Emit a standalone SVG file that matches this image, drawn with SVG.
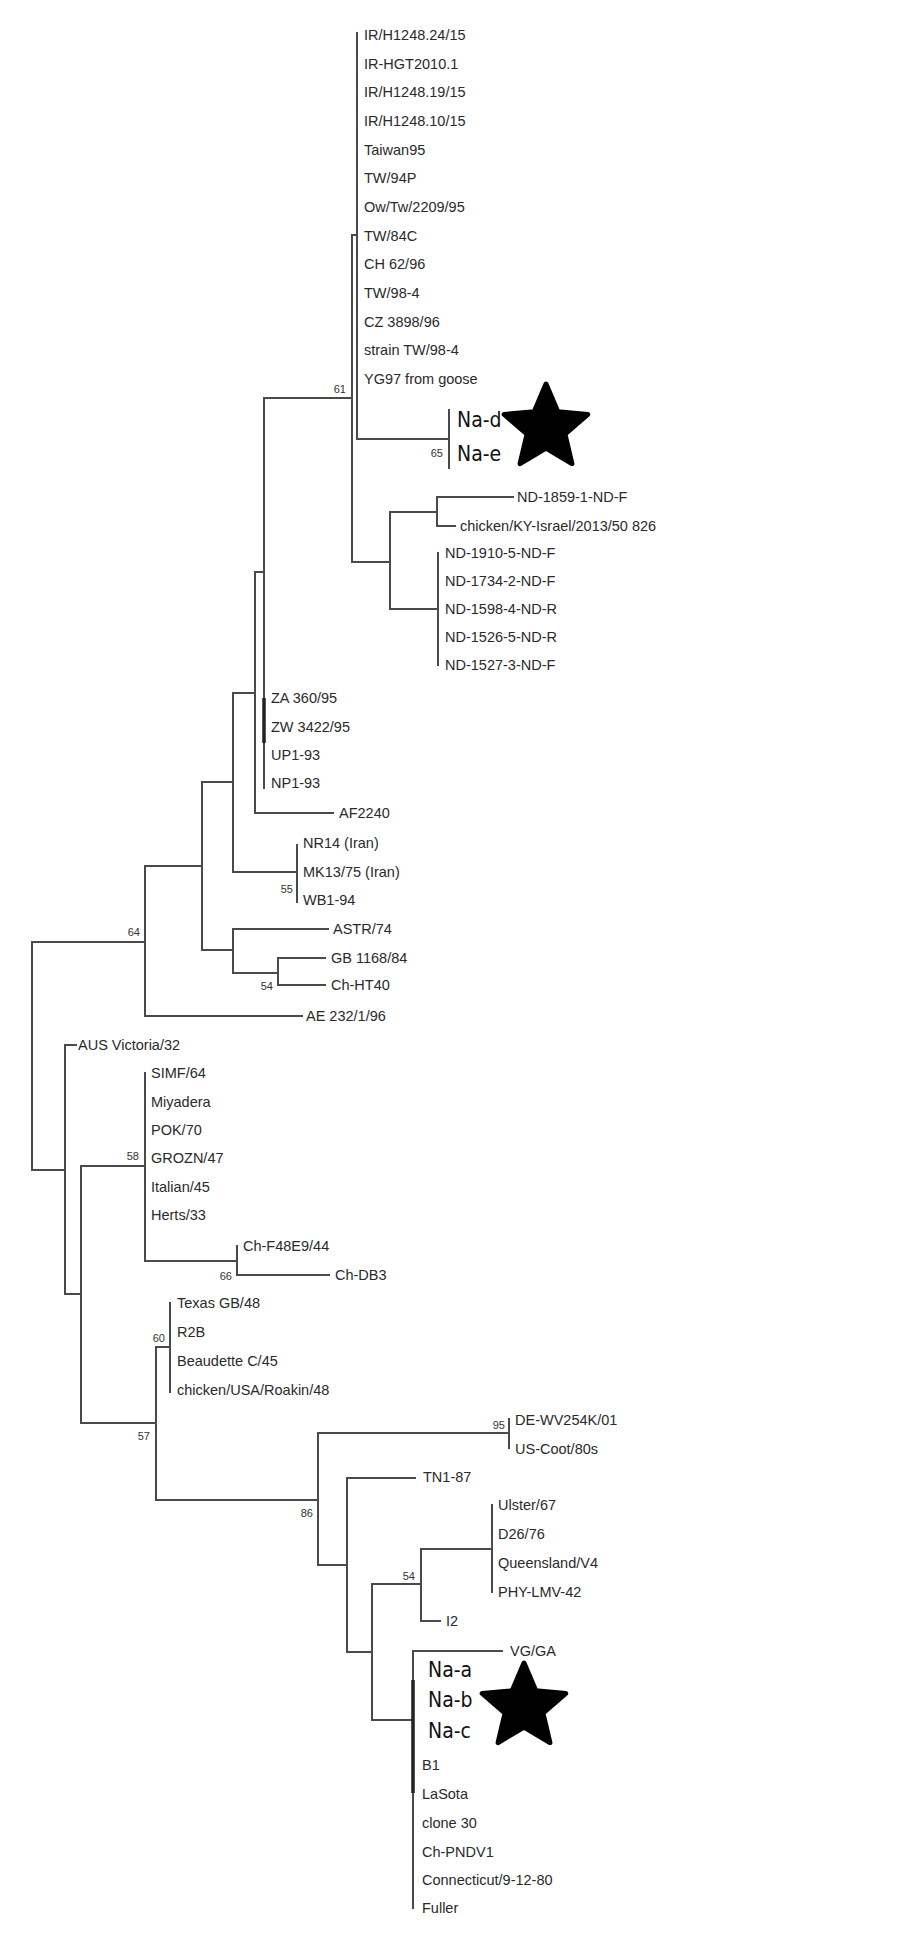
<svg xmlns="http://www.w3.org/2000/svg" width="915" height="1944" viewBox="0 0 915 1944">
<style>
.bg{fill:#fff}
.e{fill:none;stroke:#4a4a4a;stroke-width:2;stroke-linecap:square}
.thick{fill:none;stroke:#222;stroke-width:3.5}
.t{font-family:"Liberation Sans",Arial,sans-serif;font-size:14.5px;fill:#2a2a2a}
.na{font-family:"DejaVu Sans Condensed","DejaVu Sans",sans-serif;font-stretch:condensed;font-size:21px;fill:#111}
.b{font-family:"Liberation Sans",Arial,sans-serif;font-size:11px;fill:#333;text-anchor:end}
.star{fill:#000;stroke:#000;stroke-width:5;stroke-linejoin:round}
</style>
<defs>
<path id="star" d="M0,-44 L11.8,-16.2 L41.8,-13.6 L19,6.2 L25.9,35.6 L0,20 L-25.9,35.6 L-19,6.2 L-41.8,-13.6 L-11.8,-16.2 Z"/>
</defs>
<rect class="bg" x="0" y="0" width="915" height="1944"/>
<g id="connectors">
<path class="e" d="M357 33V439M357 439H449M352 235H357M449 410V468
M352 235V562M264 398H352M352 562H390
M390 512V609M390 512H437M390 609H438
M437 497V526M437 497H513M437 526H455
M438 553V665
M264 398V788M255 572H264
M255 572V813M255 813H333M233 693H255
M233 693V872M233 872H297M202 782H233
M297 845V902
M202 782V950M145 866H202M202 950H233
M233 929V973M233 929H328M233 973H278
M278 958V985M278 958H325M278 985H325
M145 866V1016M145 1016H302M32 942H145
M32 942V1170M32 1170H65
M65 1045V1294M65 1045H76M65 1294H81
M81 1166V1423M81 1166H145M81 1423H156
M145 1073V1261M145 1261H237
M237 1246V1275M237 1275H329
M170 1303V1392M156 1347H170
M156 1347V1500M156 1500H318
M318 1433V1565M318 1433H509M318 1565H347
M509 1419V1448
M347 1478V1652M347 1478H415M347 1652H372
M372 1584V1720M372 1584H421M372 1720H413
M421 1549V1621M421 1549H492M421 1621H440
M492 1505V1592
M413 1651V1908M413 1651H502"/>
<path class="thick" d="M264 698V743M413 1680V1793"/>
</g>
<g id="bootstrap">
<text class="b" x="346" y="393">61</text>
<text class="b" x="443" y="457">65</text>
<text class="b" x="293" y="893">55</text>
<text class="b" x="273" y="990">54</text>
<text class="b" x="140" y="936">64</text>
<text class="b" x="139" y="1160">58</text>
<text class="b" x="232" y="1280">66</text>
<text class="b" x="165" y="1342">60</text>
<text class="b" x="150" y="1440">57</text>
<text class="b" x="505" y="1429">95</text>
<text class="b" x="313" y="1517">86</text>
<text class="b" x="415" y="1580">54</text>
</g>
<g id="leaf-IR-H1248-24"><text class="t" x="364" y="40">IR/H1248.24/15</text></g>
<g id="leaf-IR-HGT2010"><text class="t" x="364" y="69">IR-HGT2010.1</text></g>
<g id="leaf-IR-H1248-19"><text class="t" x="364" y="97">IR/H1248.19/15</text></g>
<g id="leaf-IR-H1248-10"><text class="t" x="364" y="126">IR/H1248.10/15</text></g>
<g id="leaf-Taiwan95"><text class="t" x="364" y="155">Taiwan95</text></g>
<g id="leaf-TW94P"><text class="t" x="364" y="183">TW/94P</text></g>
<g id="leaf-OwTw"><text class="t" x="364" y="212">Ow/Tw/2209/95</text></g>
<g id="leaf-TW84C"><text class="t" x="364" y="241">TW/84C</text></g>
<g id="leaf-CH62"><text class="t" x="364" y="269">CH 62/96</text></g>
<g id="leaf-TW98-4"><text class="t" x="364" y="298">TW/98-4</text></g>
<g id="leaf-CZ3898"><text class="t" x="364" y="327">CZ 3898/96</text></g>
<g id="leaf-strainTW"><text class="t" x="364" y="355">strain TW/98-4</text></g>
<g id="leaf-YG97"><text class="t" x="364" y="384">YG97 from goose</text></g>
<g id="leaf-Na-d"><text class="na" x="457" y="427">Na-d</text></g>
<g id="leaf-Na-e"><text class="na" x="457" y="461">Na-e</text></g>
<g id="star-1"><use href="#star" class="star" x="546" y="428"/></g>
<g id="leaf-ND-1859"><text class="t" x="517" y="502">ND-1859-1-ND-F</text></g>
<g id="leaf-chickenKY"><text class="t" x="460" y="531">chicken/KY-Israel/2013/50 826</text></g>
<g id="leaf-ND-1910"><text class="t" x="445" y="558">ND-1910-5-ND-F</text></g>
<g id="leaf-ND-1734"><text class="t" x="445" y="586">ND-1734-2-ND-F</text></g>
<g id="leaf-ND-1598"><text class="t" x="445" y="614">ND-1598-4-ND-R</text></g>
<g id="leaf-ND-1526"><text class="t" x="445" y="642">ND-1526-5-ND-R</text></g>
<g id="leaf-ND-1527"><text class="t" x="445" y="670">ND-1527-3-ND-F</text></g>
<g id="leaf-ZA360"><text class="t" x="271" y="703">ZA 360/95</text></g>
<g id="leaf-ZW3422"><text class="t" x="271" y="732">ZW 3422/95</text></g>
<g id="leaf-UP1"><text class="t" x="271" y="760">UP1-93</text></g>
<g id="leaf-NP1"><text class="t" x="271" y="788">NP1-93</text></g>
<g id="leaf-AF2240"><text class="t" x="339" y="818">AF2240</text></g>
<g id="leaf-NR14"><text class="t" x="303" y="848">NR14 (Iran)</text></g>
<g id="leaf-MK13"><text class="t" x="303" y="877">MK13/75 (Iran)</text></g>
<g id="leaf-WB1"><text class="t" x="303" y="905">WB1-94</text></g>
<g id="leaf-ASTR"><text class="t" x="333" y="934">ASTR/74</text></g>
<g id="leaf-GB1168"><text class="t" x="331" y="963">GB 1168/84</text></g>
<g id="leaf-ChHT40"><text class="t" x="331" y="990">Ch-HT40</text></g>
<g id="leaf-AE232"><text class="t" x="306" y="1021">AE 232/1/96</text></g>
<g id="leaf-AUS"><text class="t" x="78" y="1050">AUS Victoria/32</text></g>
<g id="leaf-SIMF"><text class="t" x="151" y="1078">SIMF/64</text></g>
<g id="leaf-Miyadera"><text class="t" x="151" y="1107">Miyadera</text></g>
<g id="leaf-POK"><text class="t" x="151" y="1135">POK/70</text></g>
<g id="leaf-GROZN"><text class="t" x="151" y="1163">GROZN/47</text></g>
<g id="leaf-Italian"><text class="t" x="151" y="1192">Italian/45</text></g>
<g id="leaf-Herts"><text class="t" x="151" y="1220">Herts/33</text></g>
<g id="leaf-ChF48E9"><text class="t" x="243" y="1251">Ch-F48E9/44</text></g>
<g id="leaf-ChDB3"><text class="t" x="335" y="1280">Ch-DB3</text></g>
<g id="leaf-Texas"><text class="t" x="177" y="1308">Texas GB/48</text></g>
<g id="leaf-R2B"><text class="t" x="177" y="1337">R2B</text></g>
<g id="leaf-Beaudette"><text class="t" x="177" y="1366">Beaudette C/45</text></g>
<g id="leaf-Roakin"><text class="t" x="177" y="1395">chicken/USA/Roakin/48</text></g>
<g id="leaf-DEWV"><text class="t" x="515" y="1425">DE-WV254K/01</text></g>
<g id="leaf-USCoot"><text class="t" x="515" y="1454">US-Coot/80s</text></g>
<g id="leaf-TN1"><text class="t" x="423" y="1482">TN1-87</text></g>
<g id="leaf-Ulster"><text class="t" x="498" y="1510">Ulster/67</text></g>
<g id="leaf-D26"><text class="t" x="498" y="1539">D26/76</text></g>
<g id="leaf-Queensland"><text class="t" x="498" y="1568">Queensland/V4</text></g>
<g id="leaf-PHY"><text class="t" x="498" y="1597">PHY-LMV-42</text></g>
<g id="leaf-I2"><text class="t" x="446" y="1626">I2</text></g>
<g id="leaf-VGGA"><text class="t" x="510" y="1656">VG/GA</text></g>
<g id="leaf-Na-a"><text class="na" x="428" y="1677">Na-a</text></g>
<g id="leaf-Na-b"><text class="na" x="428" y="1707">Na-b</text></g>
<g id="leaf-Na-c"><text class="na" x="428" y="1738">Na-c</text></g>
<g id="star-2"><use href="#star" class="star" x="524" y="1707"/></g>
<g id="leaf-B1"><text class="t" x="422" y="1770">B1</text></g>
<g id="leaf-LaSota"><text class="t" x="422" y="1799">LaSota</text></g>
<g id="leaf-clone30"><text class="t" x="422" y="1828">clone 30</text></g>
<g id="leaf-ChPNDV1"><text class="t" x="422" y="1857">Ch-PNDV1</text></g>
<g id="leaf-Connecticut"><text class="t" x="422" y="1885">Connecticut/9-12-80</text></g>
<g id="leaf-Fuller"><text class="t" x="422" y="1913">Fuller</text></g>
</svg>
